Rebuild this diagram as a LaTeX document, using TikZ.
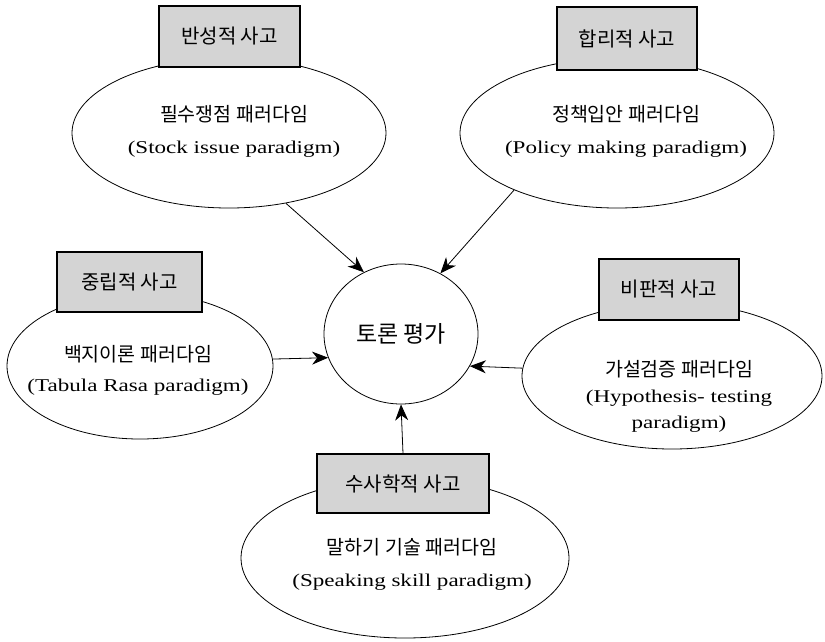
\documentclass[tikz,border=0pt]{standalone}
\usepackage{fontspec}
\setmainfont[FakeStretch=1.28]{Liberation Serif}
\newfontfamily\kr{Noto Sans CJK KR}
\usetikzlibrary{shapes.geometric,arrows.meta}

\begin{document}
\begin{tikzpicture}[x=1pt,y=-1pt]
  \tikzset{
    para/.style={draw, ellipse, fill=white, line width=0.8pt, inner sep=0pt},
    think/.style={draw, rectangle, fill=black!17, line width=1.2pt, minimum width=141pt, minimum height=61pt, font=\kr\fontsize{20}{22}\selectfont},
    hub/.style={draw, ellipse, line width=0.8pt, minimum width=154pt, minimum height=140pt, font=\kr\fontsize{23}{26}\selectfont},
    txt/.style={align=center, font=\fontsize{18}{32}\selectfont},
    line/.style={draw, line width=0.8pt, -{Stealth[length=16pt,width=13pt,inset=5pt]}},
  }
  \newcommand{\krl}[1]{{\kr\fontsize{19.5}{22}\selectfont #1}}
  \useasboundingbox (0,0) rectangle (825,641);

  % paradigms
  \node [para, minimum width=314pt, minimum height=150pt] (stock) at (229,133) {};
  \node [para, minimum width=314pt, minimum height=150pt] (policy) at (617,133) {};
  \node [para, minimum width=266pt, minimum height=146pt] (tabula) at (140,366) {};
  \node [para, minimum width=300pt, minimum height=146pt] (hypo) at (672,376) {};
  \node [para, minimum width=328pt, minimum height=160pt] (speak) at (405,558) {};

  \node [txt] (stocktxt) at (234,131) {\krl{필수쟁점 패러다임}\\(Stock issue paradigm)};
  \node [txt] (policytxt) at (626,131) {\krl{정책입안 패러다임}\\(Policy making paradigm)};
  \node [txt, font=\fontsize{18}{30}\selectfont] (tabulatxt) at (138,370) {\krl{백지이론 패러다임}\\(Tabula Rasa paradigm)};
  \node [txt, font=\fontsize{18}{26}\selectfont] (hypotxt) at (679,396) {\krl{가설검증 패러다임}\\(Hypothesis- testing\\paradigm)};
  \node [txt] (speaktxt) at (412,564) {\krl{말하기 기술 패러다임}\\(Speaking skill paradigm)};

  % kinds of thinking
  \node [think] (refl) at (229.5,36.5) {반성적 사고};
  \node [think, minimum width=140pt, minimum height=63pt] (ratio) at (627,38.5) {합리적 사고};
  \node [think, minimum width=145pt, minimum height=60pt] (neut) at (129.5,282) {중립적 사고};
  \node [think, minimum width=140pt] (crit) at (669,289.5) {비판적 사고};
  \node [think, minimum width=172pt, minimum height=59pt] (rhet) at (403,483.5) {수사학적 사고};

  \node [hub] (eval) at (401,334) {토론 평가};

  \path [line] (stock.-51)--(eval.121);
  \path [line] (policy.-151)--(eval.57);
  \path [line] (tabula.3)--(eval.-162);
  \path [line] (hypo.177)--(eval.-25);
  \path [line] (rhet.north)--(eval.south);
\end{tikzpicture}
\end{document}
